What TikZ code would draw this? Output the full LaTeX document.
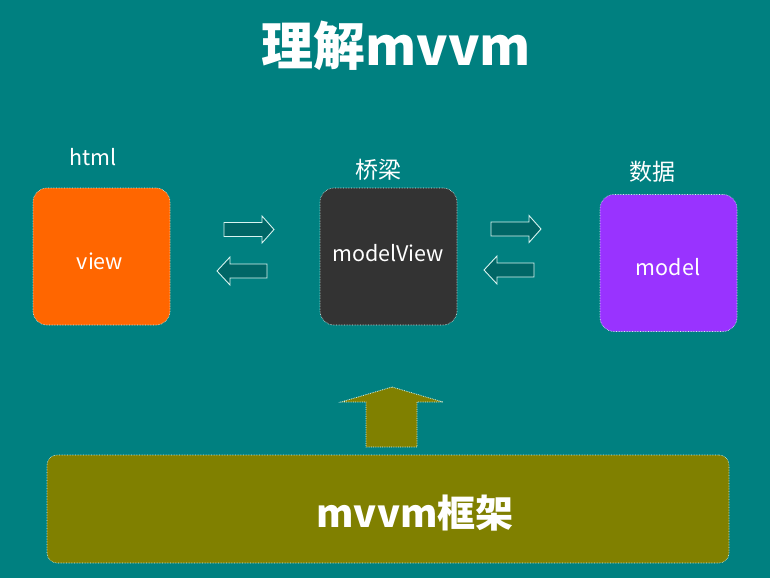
\documentclass[tikz,border=0pt]{standalone}
\usepackage{fontspec}
\setmainfont{Noto Sans CJK SC}
\usetikzlibrary{positioning}
\definecolor{bg}{HTML}{008080}
\definecolor{viewc}{HTML}{FF6600}
\definecolor{vmc}{HTML}{333333}
\definecolor{modelc}{HTML}{9933FF}
\definecolor{frame}{HTML}{808000}
\definecolor{blkfill}{HTML}{006666}
\definecolor{edge}{HTML}{D8F4F0}
\tikzset{
  box/.style={draw=edge, densely dotted, line width=0.6pt, rounded corners=14pt,
    minimum width=137pt, minimum height=137pt, inner sep=0pt},
  lab/.style={text=white, anchor=base, font=\fontsize{21.5}{25}\selectfont},
  cjklab/.style={text=white, anchor=base, font=\fontsize{23}{27}\selectfont},
  blk/.style={fill=blkfill, draw=edge, line width=0.9pt, line join=miter},
  upblk/.style={fill=frame, draw=edge, densely dotted, line width=0.8pt},
}
\newcommand\rblk[1]{\draw[blk] (#1) -- ++(-12,-13.5) -- ++(0,6.5) -- ++(-38,0)
  -- ++(0,14) -- ++(38,0) -- ++(0,6.5) -- cycle;}
\newcommand\lblk[1]{\draw[blk] (#1) -- ++(13,-14) -- ++(0,7) -- ++(37,0)
  -- ++(0,14) -- ++(-37,0) -- ++(0,7) -- cycle;}
\begin{document}
\begin{tikzpicture}[x=1pt,y=-1pt]
  \fill[bg] (0,0) rectangle (770,578);
  \useasboundingbox (0,0) rectangle (770,578);
  % title
  \node[text=white, anchor=base, font=\bfseries\fontsize{52}{60}\selectfont] (title) at (396,66) {理解mvvm};
  % the three parts
  \node[box, fill=viewc] (view) at (101.5,256.5) {};
  \node[box, fill=vmc] (vm) at (388.5,256.5) {};
  \node[box, fill=modelc] (model) at (668.5,263) {};
  \node[lab] (viewtxt) at (100,269) {view};
  \node[lab] (vmtxt) at (388,261) {modelView};
  \node[lab] (modeltxt) at (668,275) {model};
  \node[lab] (html) at (93,165) {html};
  \node[cjklab] (bridge) at (378,178) {桥梁};
  \node[cjklab] (data) at (652,180) {数据};
  % block arrows between the parts
  \coordinate (r1) at (274,229.5);
  \coordinate (l1) at (217,271);
  \coordinate (r2) at (541,229);
  \coordinate (l2) at (484,270);
  \rblk{r1} \lblk{l1}
  \rblk{r2} \lblk{l2}
  % framework
  \node[draw=edge, densely dotted, line width=0.6pt, fill=frame, rounded corners=10pt,
    minimum width=682pt, minimum height=108pt] (fw) at (388,509) {};
  \node[text=white, anchor=base, font=\bfseries\fontsize{38}{44}\selectfont] (fwtxt) at (415,527) {mvvm框架};
  \draw[upblk] (392,387) -- (443,402) -- (417,402) -- (417,447) -- (366,447)
    -- (366,402) -- (341,402) -- cycle;
\end{tikzpicture}
\end{document}
